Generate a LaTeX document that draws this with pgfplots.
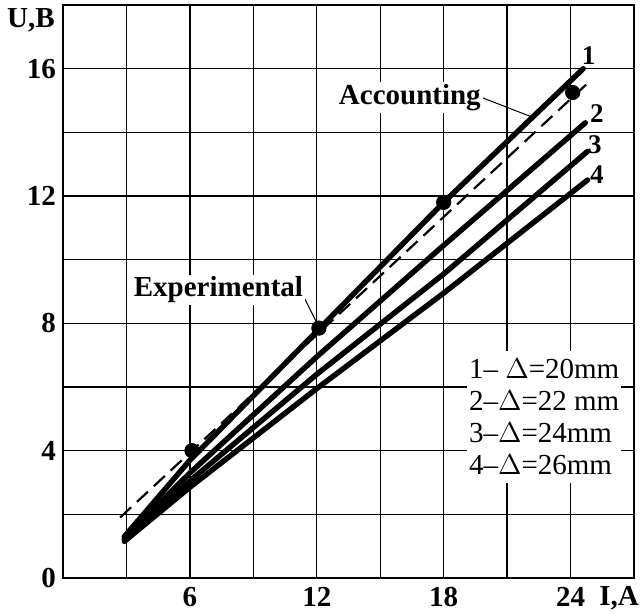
\documentclass[border=0pt]{standalone}
\usepackage{fontspec}
\setmainfont{Liberation Serif}
\usepackage{pgfplots}
\pgfplotsset{compat=1.18}
\usetikzlibrary{calc}

\newcommand\lblfont{\fontsize{14.5}{17}\selectfont\bfseries}
\newcommand\numfont{\fontsize{13.5}{15}\selectfont\bfseries}

\begin{document}
\begin{tikzpicture}[font=\fontsize{14.5}{17}\selectfont]
\begin{axis}[
  scale only axis,
  width=285.5pt, height=286.5pt,
  xmin=0, xmax=27, ymin=0, ymax=18,
  xtick={3,6,...,24}, xticklabels={,6,,12,,18,,24},
  ytick={0,2,...,16}, yticklabels={0,,4,,8,,12,,16},
  grid=major,
  major grid style={black, line width=0.7pt},
  axis line style={black, line width=0.9pt},
  major tick length=0pt,
  ticklabel style={font=\lblfont},
  xticklabel style={yshift=-1pt},
  /pgf/number format/assume math mode=true,
  clip=false,
]
% calculated ("Accounting") characteristic
\addplot[black, line width=1.1pt, dash pattern=on 7.5pt off 4pt]
  coordinates {(2.7,1.9) (24.9,15.6)};

% measured characteristics for the four gap widths
\addplot[black, line width=2.7pt, line cap=round, line join=round]
  coordinates {(2.9,1.3) (6,3.7) (12,7.75) (18,11.8) (24.6,16.0)};
\addplot[black, line width=2.7pt, line cap=round, line join=round]
  coordinates {(2.9,1.25) (6,3.3) (12,6.95) (18,10.45) (24.7,14.3)};
\addplot[black, line width=2.7pt, line cap=round, line join=round]
  coordinates {(2.9,1.2) (6,3.05) (12,6.4) (18,9.55) (24.8,13.4)};
\addplot[black, line width=2.7pt, line cap=round, line join=round]
  coordinates {(2.9,1.15) (6,2.85) (12,5.95) (18,8.95) (24.8,12.5)};

% experimental points
\addplot[only marks, mark=*, mark size=3.6pt, black]
  coordinates {(6.1,4.0) (12.1,7.85) (18,11.8) (24.1,15.25)};

% curve numbers
\node[font=\numfont, inner sep=0pt] at (axis cs:24.85,16.4) {1};
\node[font=\numfont, inner sep=0pt] at (axis cs:25.25,14.6) {2};
\node[font=\numfont, inner sep=0pt] at (axis cs:25.15,13.6) {3};
\node[font=\numfont, inner sep=0pt] at (axis cs:25.25,12.68) {4};

% annotations with leader lines
\draw[black, line width=0.5pt] (axis cs:19.7,15.12) -- (axis cs:22.1,14.5);
\node[fill=white, inner sep=1pt, font=\lblfont]
  at (axis cs:16.4,15.1) {Accounting};
\draw[black, line width=0.5pt] (axis cs:11.3,8.95) -- (axis cs:12.05,7.95);
\node[fill=white, inner sep=1pt, font=\lblfont]
  at (axis cs:7.35,9.05) {Experimental};

% key to the curves
\node[fill=white, inner xsep=1pt, inner ysep=4pt, align=left,
      font=\fontsize{14.5}{16}\selectfont]
  at (axis cs:22.75,5.05)
  {1– $\Delta$=20mm\\2–$\Delta$=22 mm\\3–$\Delta$=24mm\\4–$\Delta$=26mm};

% axis names
\node[font=\lblfont, xshift=-16pt, yshift=-7.5pt]
  at (rel axis cs:0,1) {U,B};
\node[font=\lblfont, xshift=-7.5pt, yshift=-10pt]
  at (rel axis cs:1,0) {I,A};

\coordinate (sw) at (rel axis cs:0,0);
\coordinate (ne) at (rel axis cs:1,1);
\end{axis}
\pgfresetboundingbox
\path ($(sw)+(-31.5pt,-18pt)$) rectangle ($(ne)+(3.5pt,2.5pt)$);
\end{tikzpicture}
\end{document}
